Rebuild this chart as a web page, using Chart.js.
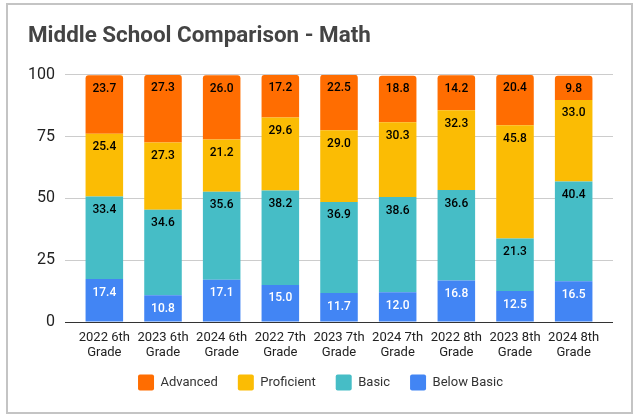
<!DOCTYPE html>
<html>
<head>
<meta charset="utf-8">
<script src="https://cdn.jsdelivr.net/npm/chart.js@4.4.1/dist/chart.umd.min.js"></script>
<style>
  html, body { margin: 0; padding: 0; background: #fff; }
  #wrap { position: relative; width: 633px; height: 414px; overflow: hidden; }
  #frame { position: absolute; left: 6px; top: 3px; width: 623px; height: 407px; border: 2px solid #c4c4c4; pointer-events: none; }
</style>
</head>
<body>
<div id="wrap">
  <canvas id="c" width="633" height="414"></canvas>
  <div id="frame"></div>
</div>
<script>
const categories = [
  ["2022 6th", "Grade"], ["2023 6th", "Grade"], ["2024 6th", "Grade"],
  ["2022 7th", "Grade"], ["2023 7th", "Grade"], ["2024 7th", "Grade"],
  ["2022 8th", "Grade"], ["2023 8th", "Grade"], ["2024 8th", "Grade"]
];
const advanced   = [23.7, 27.3, 26.0, 17.2, 22.5, 18.8, 14.2, 20.4, 9.8];
const proficient = [25.4, 27.3, 21.2, 29.6, 29.0, 30.3, 32.3, 45.8, 33.0];
const basic      = [33.4, 34.6, 35.6, 38.2, 36.9, 38.6, 36.6, 21.3, 40.4];
const belowBasic = [17.4, 10.8, 17.1, 15.0, 11.7, 12.0, 16.8, 12.5, 16.5];
const yTicks = [0, 25, 50, 75, 100];

const FONT = "Roboto";

const labelPlugin = {
  id: 'segLabels',
  afterLayout(chart) {
    // let the two-line category labels draw past the compact axis box
    const x = chart.scales.x;
    x.bottom = x.top + 45;
  },
  afterDatasetsDraw(chart) {
    const ctx = chart.ctx;
    ctx.save();
    ctx.font = "500 12px " + FONT;
    ctx.textAlign = 'center';
    ctx.textBaseline = 'middle';
    chart.data.datasets.forEach((ds, i) => {
      const meta = chart.getDatasetMeta(i);
      if (meta.hidden) return;
      meta.data.forEach((el, j) => {
        ctx.fillStyle = ds.labelColor;
        ctx.fillText(ds.data[j].toFixed(1), el.x, el.y + 13.5);
      });
    });
    ctx.restore();
  }
};

const gridColor = (c) => (c.tick && c.tick.value === 0) ? '#333333' : '#cccccc';

new Chart(document.getElementById('c'), {
  type: 'bar',
  data: {
    labels: categories,
    datasets: [
      { label: 'Below Basic', data: belowBasic, backgroundColor: '#4285f4', labelColor: '#ffffff' },
      { label: 'Basic', data: basic, backgroundColor: '#46bdc6', labelColor: '#000000' },
      { label: 'Proficient', data: proficient, backgroundColor: '#fbbc04', labelColor: '#000000' },
      { label: 'Advanced', data: advanced, backgroundColor: '#ff6d01', labelColor: '#000000',
        borderRadius: { topLeft: 3, topRight: 3, bottomLeft: 0, bottomRight: 0 }, borderSkipped: false }
    ]
  },
  options: {
    responsive: false,
    animation: false,
    devicePixelRatio: 1,
    layout: { padding: { left: 28, right: 20, top: 0, bottom: 13.5 } },
    datasets: { bar: { categoryPercentage: 1, barPercentage: 0.64 } },
    plugins: {
      title: {
        display: true,
        text: 'Middle School Comparison - Math',
        align: 'start',
        color: '#444444',
        font: { family: FONT, size: 22.4, weight: 'bold', lineHeight: 1.2 },
        padding: { top: 23, bottom: 25.1 }
      },
      legend: {
        position: 'bottom',
        reverse: true,
        labels: {
          boxWidth: 16, boxHeight: 16, padding: 20,
          useBorderRadius: true, borderRadius: 2,
          color: '#333333',
          font: { family: FONT, size: 13 }
        }
      },
      tooltip: { enabled: false }
    },
    scales: {
      x: {
        stacked: true,
        grid: { display: false, drawTicks: false },
        border: { display: false },
        afterFit: (s) => { s.height = 32.5; },
        ticks: { color: '#222222', font: { family: FONT, size: 13, lineHeight: 1.2 }, padding: 7.7, maxRotation: 0, autoSkip: false }
      },
      y: {
        stacked: true,
        min: 0, max: 100,
        afterBuildTicks: (s) => { s.ticks = yTicks.map(v => ({ value: v })); },
        afterFit: (s) => { s.width = 47; },
        grid: { color: gridColor, tickLength: 10, drawTicks: true },
        border: { display: false },
        ticks: { color: '#222222', font: { family: FONT, size: 16 }, padding: 10 }
      },
      yRight: {
        position: 'right',
        min: 0, max: 100,
        afterBuildTicks: (s) => { s.ticks = yTicks.map(v => ({ value: v })); },
        afterFit: (s) => { s.width = 10; },
        grid: { color: gridColor, tickLength: 10, drawTicks: true, drawOnChartArea: false },
        border: { display: false },
        ticks: { display: false }
      }
    }
  },
  plugins: [labelPlugin]
});
</script>
</body>
</html>
